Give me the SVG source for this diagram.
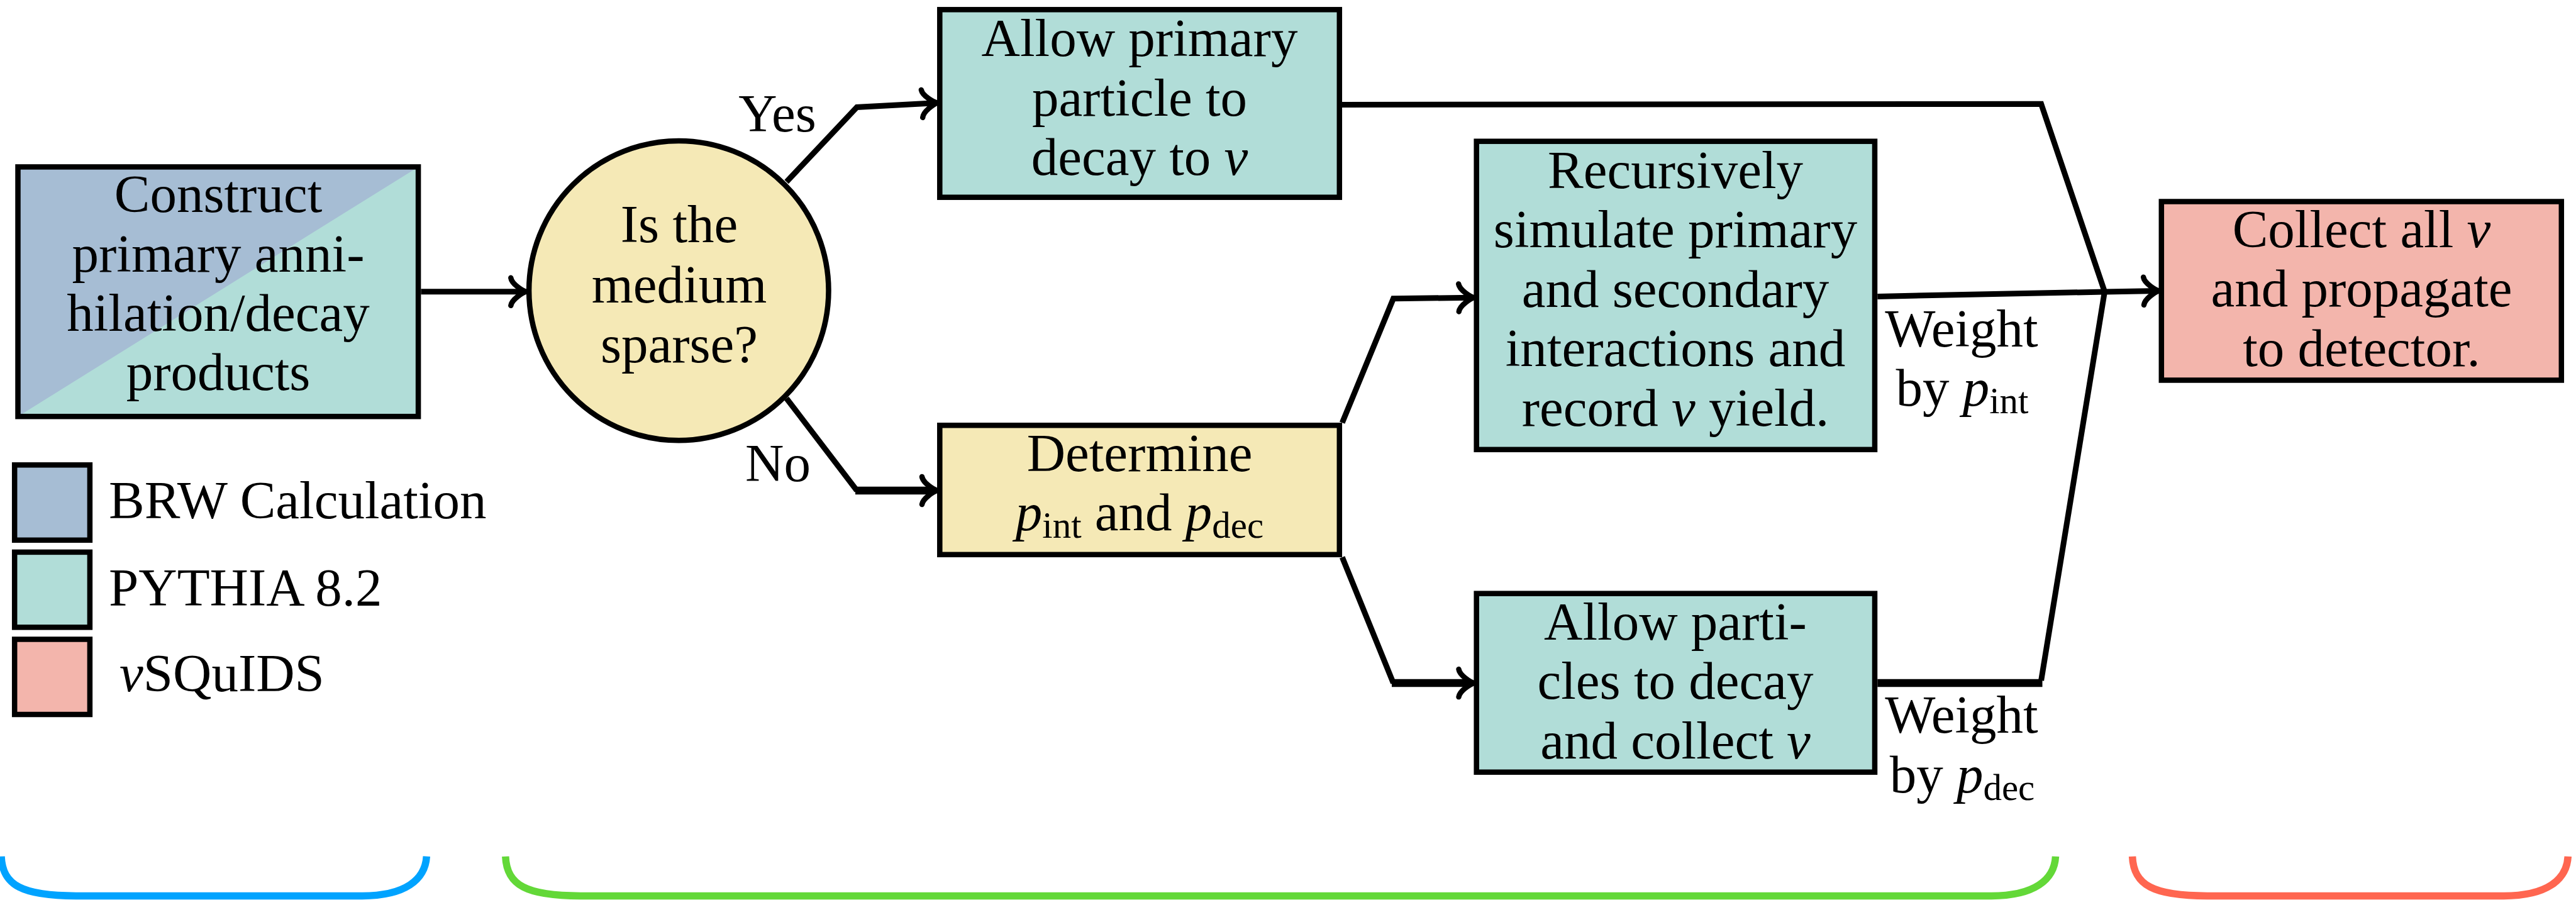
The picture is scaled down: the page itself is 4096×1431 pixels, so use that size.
<svg xmlns="http://www.w3.org/2000/svg" width="4096" height="1431" viewBox="0 0 4096 1431">
<style>
  text { font-family: "Liberation Serif", "Times New Roman", serif; font-size: 85px; fill: #000; }
  .c { text-anchor: middle; }
  .i { font-style: italic; }
  .sub { font-size: 59px; }
  .box { stroke: #000; stroke-width: 8.5; }
  .blue { fill: #a6bdd4; }
  .teal { fill: #b1ddd8; }
  .pink { fill: #f3b5ac; }
  .yellow { fill: #f5e9b6; }
  .ln { fill: none; stroke: #000; stroke-width: 9; stroke-linejoin: miter; }
  .thick { stroke-width: 12.5; }
  .br { fill: none; stroke-width: 11.5; stroke-linecap: butt; }
</style>
<defs>
  <marker id="arr" markerUnits="userSpaceOnUse" orient="auto" refX="-3" refY="0" overflow="visible" markerWidth="40" markerHeight="60">
    <path d="M -24,-22 C -22.5,-12 -5,-1.5 0,0 C -5,1.5 -22.5,12 -24,22" fill="none" stroke="#000" stroke-width="8.5" stroke-linecap="round"/>
  </marker>
  <marker id="arrT" markerUnits="userSpaceOnUse" orient="auto" refX="-6" refY="0" overflow="visible" markerWidth="40" markerHeight="60">
    <path d="M -24,-22 C -22.5,-12 -5,-1.5 0,0 C -5,1.5 -22.5,12 -24,22" fill="none" stroke="#000" stroke-width="8.5" stroke-linecap="round"/>
  </marker>
</defs>
<rect width="4096" height="1431" fill="#fff"/>

<g id="connectors">
  <path class="ln" d="M 669.4,463.8 L 833.3,463.8" marker-end="url(#arr)"/>
  <path class="ln" d="M 1250.6,289.1 L 1362.5,170.4 L 1487,163.8" marker-end="url(#arr)"/>
  <path class="ln" d="M 1250.6,633.4 L 1362.5,780"/>
  <path class="ln thick" d="M 1360,780 L 1484,780" marker-end="url(#arrT)"/>
  <path class="ln" d="M 2134.2,672.1 L 2215.5,474.8 L 2340.5,473.2" marker-end="url(#arr)"/>
  <path class="ln" d="M 2134.2,886 L 2215.5,1086.1"/>
  <path class="ln thick" d="M 2213,1086.1 L 2337.5,1086.1" marker-end="url(#arrT)"/>
  <path class="ln" d="M 2134,166.5 L 3245.6,165.3 L 3346.5,463.8"/>
  <path class="ln" d="M 2985.3,471.4 L 3346.5,464 L 3429.6,462.4" marker-end="url(#arr)"/>
  <path class="ln thick" d="M 2985.3,1086.1 L 3247.5,1086.1"/>
  <path class="ln" d="M 3245.6,1082 L 3346.5,463.8"/>
  <text class="c" x="1236" y="209">Yes</text>
  <text class="c" x="1237" y="765">No</text>
  <text class="c" x="3119" y="551">Weight</text>
  <text class="c" x="3120" y="645">by <tspan class="i">p</tspan><tspan class="sub" dy="12">int</tspan></text>
  <text class="c" x="3119" y="1165">Weight</text>
  <text class="c" x="3120" y="1260">by <tspan class="i">p</tspan><tspan class="sub" dy="12">dec</tspan></text>
</g>

<g id="construct">
  <rect class="teal" x="28.5" y="265.4" width="636.6" height="396.8"/>
  <polygon class="blue" points="28.5,265.4 665.1,265.4 28.5,662.2"/>
  <rect class="box" x="28.5" y="265.4" width="636.6" height="396.8" fill="none"/>
  <text class="c" x="347" y="337">Construct</text>
  <text class="c" x="347" y="432">primary anni-</text>
  <text class="c" x="347" y="526">hilation/decay</text>
  <text class="c" x="347" y="620">products</text>
</g>

<g id="decision">
  <circle class="box yellow" cx="1079.3" cy="462.1" r="238.2"/>
  <text class="c" x="1080" y="385">Is the</text>
  <text class="c" x="1080" y="481">medium</text>
  <text class="c" x="1080" y="576">sparse?</text>
</g>

<g id="allow-primary">
  <rect class="box teal" x="1494.3" y="15.3" width="635.5" height="298.4"/>
  <text class="c" x="1812" y="89">Allow primary</text>
  <text class="c" x="1812" y="184">particle to</text>
  <text class="c" x="1812" y="278">decay to <tspan class="i">ν</tspan></text>
</g>

<g id="determine">
  <rect class="box yellow" x="1494.3" y="676.3" width="635.5" height="205.5"/>
  <text class="c" x="1812" y="749">Determine</text>
  <text class="c" x="1812" y="843"><tspan class="i">p</tspan><tspan class="sub" dy="12">int</tspan><tspan dy="-12"> and </tspan><tspan class="i">p</tspan><tspan class="sub" dy="12">dec</tspan></text>
</g>

<g id="recursive">
  <rect class="box teal" x="2347.7" y="224.7" width="633.3" height="490.1"/>
  <text class="c" x="2664" y="299">Recursively</text>
  <text class="c" x="2664" y="393">simulate primary</text>
  <text class="c" x="2664" y="488">and secondary</text>
  <text class="c" x="2664" y="582">interactions and</text>
  <text class="c" x="2664" y="677">record <tspan class="i">ν</tspan> yield.</text>
</g>

<g id="allow-decay">
  <rect class="box teal" x="2347.7" y="943.7" width="633.3" height="284"/>
  <text class="c" x="2664" y="1017">Allow parti-</text>
  <text class="c" x="2664" y="1111">cles to decay</text>
  <text class="c" x="2664" y="1206">and collect <tspan class="i">ν</tspan></text>
</g>

<g id="collect">
  <rect class="box pink" x="3436.8" y="320.5" width="636" height="284"/>
  <text class="c" x="3755" y="393">Collect all <tspan class="i">ν</tspan></text>
  <text class="c" x="3755" y="487">and propagate</text>
  <text class="c" x="3755" y="582">to detector.</text>
</g>

<g id="legend">
  <g id="legend-brw">
    <rect class="box blue" x="23.2" y="739.3" width="119.7" height="119.5"/>
    <text x="173" y="824">BRW Calculation</text>
  </g>
  <g id="legend-pythia">
    <rect class="box teal" x="23.2" y="877.9" width="119.7" height="119.5"/>
    <text x="173" y="963">PYTHIA 8.2</text>
  </g>
  <g id="legend-nusquids">
    <rect class="box pink" x="23.2" y="1016.5" width="119.7" height="119.5"/>
    <text x="190" y="1099"><tspan class="i">ν</tspan>SQuIDS</text>
  </g>
</g>

<g id="brackets">
  <path class="br" stroke="#00a3ff" d="M 2,1361.7 C 4,1408 36,1424.4 121,1424.4 L 576,1424.4 C 644,1424.4 676,1399 678.3,1361.7"/>
  <path class="br" stroke="#63d838" d="M 803.8,1361.7 C 805.8,1408 837.8,1424.4 922.8,1424.4 L 3166.5,1424.4 C 3234.5,1424.4 3266.5,1399 3268.5,1361.7"/>
  <path class="br" stroke="#ff6650" d="M 3390.6,1361.7 C 3392.6,1408 3424.6,1424.4 3509.6,1424.4 L 3981.3,1424.4 C 4049.3,1424.4 4081.3,1399 4083.3,1361.7"/>
</g>
</svg>
